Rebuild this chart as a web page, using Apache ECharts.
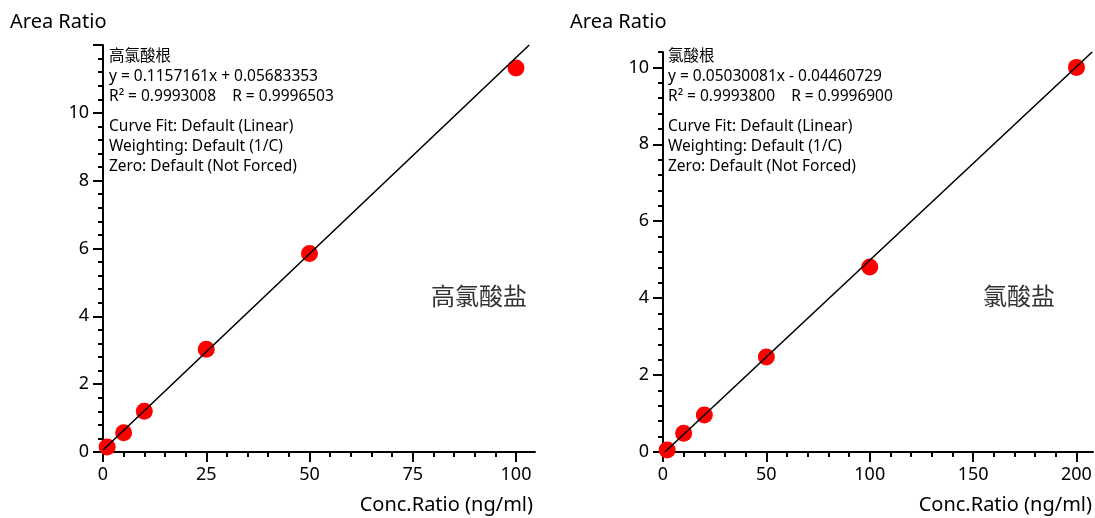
<!DOCTYPE html>
<html>
<head>
<meta charset="utf-8">
<script src="https://cdn.jsdelivr.net/npm/echarts@6/dist/echarts.min.js"></script>
<style>
  html, body { margin: 0; padding: 0; background: #fff; }
  #main { width: 1095px; height: 518px; }
</style>
</head>
<body>
<div id="main"></div>
<script>
// 高氯酸盐 (left)
const leftConc = [1, 5, 10, 25, 50, 100];
const leftArea = [0.15, 0.57, 1.2, 3.03, 5.85, 11.32];
const leftFit = [[0, 0.06], [103.2, 12]];
const leftXTicks = [0, 25, 50, 75, 100];
const leftYTicks = [0, 2, 4, 6, 8, 10];

// 氯酸盐 (right)
const rightConc = [2, 10, 20, 50, 100, 200];
const rightArea = [0.05, 0.49, 0.96, 2.47, 4.81, 10.0];
const rightFit = [[0.9, 0], [207.6, 10.4]];
const rightXTicks = [0, 50, 100, 150, 200];
const rightYTicks = [0, 2, 4, 6, 8, 10];

const leftText = ['高氯酸根', 'y = 0.1157161x + 0.05683353', 'R² = 0.9993008    R = 0.9996503'];
const rightText = ['氯酸根', 'y = 0.05030081x - 0.04460729', 'R² = 0.9993800    R = 0.9996900'];
const fitInfo = ['Curve Fit: Default (Linear)', 'Weighting: Default (1/C)', 'Zero: Default (Not Forced)'];

const FONT = '"Noto Sans", "Noto Sans CJK SC", sans-serif';

function steps(step, max, skip) {
    let out = []
    for (let i = 0; i * step <= max + 1e-9; i++) {
        let v = Math.round(i * step * 1000) / 1000
        if (skip.indexOf(v) < 0) out.push(v)
    }
    return out
}

function mainAxis(gridIndex, max, ticks, tickVals) {
    return {
        type: 'value', gridIndex: gridIndex, min: 0, max: max,
        axisLine: { show: true, onZero: false, lineStyle: { color: '#000', width: 2 } },
        axisTick: { show: true, length: 10, customValues: tickVals, lineStyle: { color: '#000', width: 2 } },
        axisLabel: { customValues: ticks, color: '#000', fontSize: 18, fontFamily: FONT, margin: 14 },
        splitLine: { show: false }
    }
}

function minorAxis(gridIndex, max, vals, pos) {
    return {
        type: 'value', gridIndex: gridIndex, min: 0, max: max, position: pos,
        axisLine: { show: false, onZero: false },
        axisTick: { show: true, length: 5, customValues: vals, lineStyle: { color: '#000', width: 2 } },
        axisLabel: { show: false },
        splitLine: { show: false }
    }
}

function label(x, y, text, size, align, color) {
    return {
        type: 'text', x: x, y: y,
        style: { text: text, fill: color || '#000', font: size + 'px ' + FONT, textAlign: align || 'left', textVerticalAlign: 'middle' }
    }
}

let graphics = [
    label(10, 22, 'Area Ratio', 20),
    label(570, 22, 'Area Ratio', 20),
    label(533, 505, 'Conc.Ratio (ng/ml)', 20, 'right'),
    label(1092, 505, 'Conc.Ratio (ng/ml)', 20, 'right'),
    label(479, 298, '高氯酸盐', 24, 'center', '#333'),
    label(1019, 298, '氯酸盐', 24, 'center', '#333')
]
const lineY = [57, 77, 97, 127, 147, 167]
leftText.concat(fitInfo).forEach((t, i) => graphics.push(label(109, lineY[i], t, 15.5)))
rightText.concat(fitInfo).forEach((t, i) => graphics.push(label(668, lineY[i], t, 15.5)))

let myChart = echarts.init(document.getElementById('main'))
myChart.setOption({
    animation: false,
    grid: [
        { left: 103, top: 45, width: 432, height: 407 },
        { left: 663, top: 52, width: 430, height: 400 }
    ],
    xAxis: [
        mainAxis(0, 104.6, leftXTicks, leftXTicks),
        minorAxis(0, 104.6, steps(5, 100, leftXTicks), 'bottom'),
        mainAxis(1, 208, rightXTicks, rightXTicks),
        minorAxis(1, 208, steps(10, 200, rightXTicks), 'bottom')
    ],
    yAxis: [
        mainAxis(0, 12, leftYTicks, leftYTicks.concat([12])),
        minorAxis(0, 12, steps(0.4, 12, leftYTicks.concat([12])), 'left'),
        mainAxis(1, 10.4, rightYTicks, rightYTicks),
        minorAxis(1, 10.4, steps(0.4, 10.4, rightYTicks), 'left')
    ],
    graphic: graphics,
    series: [
        {
            type: 'scatter', xAxisIndex: 0, yAxisIndex: 0, symbolSize: 17,
            itemStyle: { color: '#ff0000', opacity: 1 }, z: 2,
            data: leftConc.map((x, i) => [x, leftArea[i]])
        },
        {
            type: 'line', xAxisIndex: 0, yAxisIndex: 0, showSymbol: false, z: 3,
            lineStyle: { color: '#000', width: 1.6 }, data: leftFit
        },
        {
            type: 'scatter', xAxisIndex: 2, yAxisIndex: 2, symbolSize: 17,
            itemStyle: { color: '#ff0000', opacity: 1 }, z: 2,
            data: rightConc.map((x, i) => [x, rightArea[i]])
        },
        {
            type: 'line', xAxisIndex: 2, yAxisIndex: 2, showSymbol: false, z: 3,
            lineStyle: { color: '#000', width: 1.6 }, data: rightFit
        }
    ]
})
</script>
</body>
</html>
